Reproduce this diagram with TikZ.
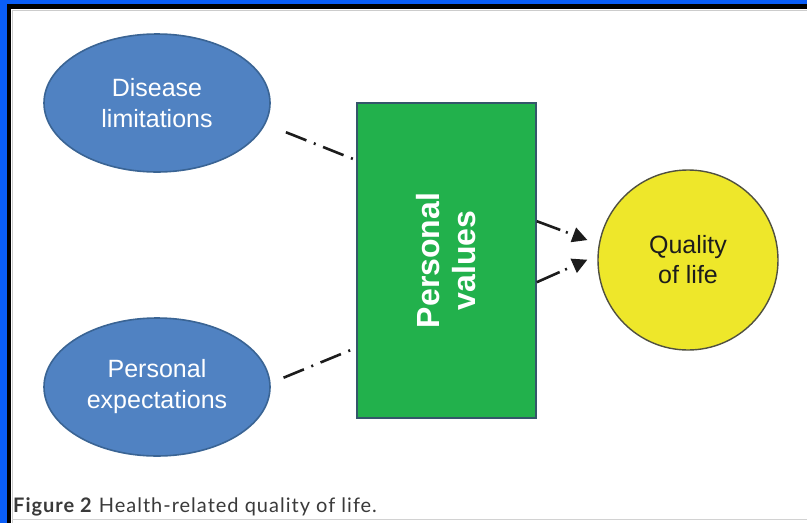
\documentclass[tikz,border=0pt]{standalone}
\usepackage{fontspec}
\setmainfont{Liberation Sans}
\newfontfamily\capfont[LetterSpace=5]{Lato}
\usetikzlibrary{shapes.geometric,arrows.meta}
\definecolor{frameblue}{HTML}{0A5EF8}
\definecolor{ellfill}{HTML}{5082C2}
\definecolor{elldraw}{HTML}{3A6494}
\definecolor{boxfill}{HTML}{22B14C}
\definecolor{boxdraw}{HTML}{34566A}
\definecolor{qolfill}{HTML}{EEE72A}
\definecolor{qoldraw}{HTML}{505040}
\definecolor{linecol}{HTML}{1C1C1C}
\definecolor{captext}{HTML}{3A3A3A}
\tikzset{
  factor/.style={ellipse, draw=elldraw, line width=1.6pt, fill=ellfill, minimum width=226pt, minimum height=138pt, inner sep=0pt, text=white, align=center, font=\fontsize{25}{31}\selectfont},
  valuebox/.style={rectangle, draw=boxdraw, line width=1.6pt, fill=boxfill, minimum width=179pt, minimum height=315pt, inner sep=0pt},
  qol/.style={circle, draw=qoldraw, line width=1.4pt, fill=qolfill, minimum size=180pt, inner sep=0pt, text=linecol, align=center, font=\fontsize{25}{30}\selectfont},
  dashdot/.style={draw=linecol, line width=2.6pt, dash pattern=on 22pt off 8pt on 2pt off 8pt},
  dasharrow/.style={draw=linecol, line width=2.6pt, dash pattern=on 25pt off 6pt on 2pt off 40pt, -{Triangle[length=15pt,width=15pt]}}
}
\begin{document}
\begin{tikzpicture}[x=1pt,y=-1pt]
\useasboundingbox (0,0) rectangle (807,523);
\fill[white] (0,0) rectangle (807,523);
% frame
\fill[frameblue] (0,0) rectangle (7,523);
\fill[frameblue] (0,0) rectangle (807,4);
\fill[black] (7,4) rectangle (11,523);
\fill[black] (7,4) rectangle (807,9);
\draw[gray!40, line width=1pt] (12,523) -- (12,10) -- (807,10);
\draw[gray!35, line width=1pt] (12,519) -- (807,519);
% nodes
\node[factor] (dl) at (157,103) {Disease\\limitations};
\node[factor] (pe) at (157,387) {Personal\\expectations};
\node[valuebox] (pv) at (446.5,260.5) {};
\node[rotate=90, text=white, align=center, font=\fontsize{32}{36}\selectfont\bfseries] (pvt) at (pv.center) {Personal\\values};
\node[qol] (ql) at (688,260) {Quality\\of life};
% connectors
\draw[dashdot, shorten <=22pt] (dl.-11.6) -- ([yshift=-58pt]pv.north west);
\draw[dashdot, shorten <=14pt] (pe.2) -- ([yshift=71pt]pv.south west);
\draw[dasharrow, shorten >=12pt] ([yshift=-119pt]pv.north east) -- (ql.170.6);
\draw[dasharrow, shorten >=11pt] ([yshift=-180pt]pv.north east) -- (ql.177.7);
% caption
\node[anchor=base west, inner sep=0pt, text=captext, font=\capfont\fontsize{20}{22}\selectfont] (cap) at (13,512) {\textbf{Figure 2} Health-related quality of life.};
\end{tikzpicture}
\end{document}
